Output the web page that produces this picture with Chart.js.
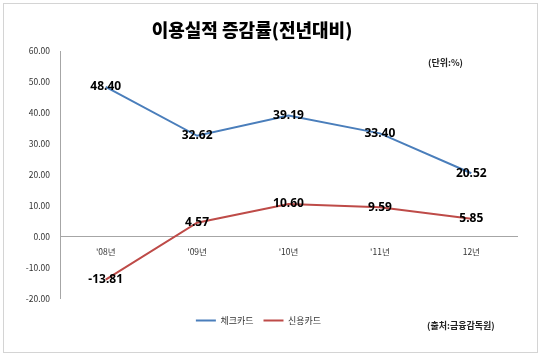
<!DOCTYPE html>
<html>
<head>
<meta charset="utf-8">
<script src="https://cdn.jsdelivr.net/npm/chart.js@4"></script>
<style>
html,body{margin:0;padding:0;background:#fff;}
#wrap{position:relative;width:541px;height:356px;}
</style>
</head>
<body>
<div id="wrap"><canvas id="c" width="541" height="356"></canvas></div>
<script>
const categories = ["'08년", "'09년", "'10년", "'11년", "12년"];
const checkCard = [48.40, 32.62, 39.19, 33.40, 20.52];
const creditCard = [-13.81, 4.57, 10.60, 9.59, 5.85];
const seriesNames = ["체크카드", "신용카드"];
const chartTitle = "이용실적 증감률(전년대비)";
const unitText = "(단위:%)";
const sourceText = "(출처:금융감독원)";
const yMin = -20, yMax = 60, yStep = 10;

const KR = "'Noto Sans CJK KR', 'Noto Sans', sans-serif";

const decor = {
  id: 'decor',
  beforeDraw(chart) {
    const ctx = chart.ctx;
    ctx.save();
    ctx.fillStyle = '#fff';
    ctx.fillRect(0, 0, chart.width, chart.height);
    ctx.strokeStyle = '#d4d4d4';
    ctx.lineWidth = 1;
    ctx.strokeRect(3.5, 3.5, 534, 349);
    ctx.restore();
  },
  afterDraw(chart) {
    const ctx = chart.ctx;
    ctx.save();
    ctx.fillStyle = '#000';
    ctx.textAlign = 'center';
    ctx.textBaseline = 'middle';
    ctx.font = "900 18px " + KR;
    ctx.fillText(chartTitle, 252, 30);
    ctx.font = "bold 9px " + KR;
    ctx.fillStyle = '#222';
    ctx.textAlign = 'left';
    ctx.fillText(unitText, 428, 63);
    ctx.fillText(sourceText, 427, 326);
    ctx.restore();
  },
  afterDatasetsDraw(chart) {
    const ctx = chart.ctx;
    ctx.save();
    ctx.fillStyle = '#000';
    ctx.font = "bold 12px 'Noto Sans', sans-serif";
    ctx.textAlign = 'center';
    ctx.textBaseline = 'middle';
    chart.data.datasets.forEach((ds, i) => {
      const meta = chart.getDatasetMeta(i);
      meta.data.forEach((pt, j) => {
        ctx.fillText(ds.data[j].toFixed(2), pt.x, pt.y);
      });
    });
    ctx.restore();
  }
};

new Chart(document.getElementById('c'), {
  type: 'line',
  data: {
    labels: categories,
    datasets: [
      { label: seriesNames[0], data: checkCard, borderColor: '#4a7ebb', backgroundColor: '#4a7ebb', borderWidth: 2, pointRadius: 0, tension: 0 },
      { label: seriesNames[1], data: creditCard, borderColor: '#be4b48', backgroundColor: '#be4b48', borderWidth: 2, pointRadius: 0, tension: 0 }
    ]
  },
  options: {
    responsive: false,
    animation: false,
    devicePixelRatio: 1,
    layout: { padding: { left: 0, right: 24, top: 51, bottom: 21 } },
    plugins: {
      legend: {
        display: true,
        position: 'bottom',
        title: { display: true, text: ' ', font: { size: 1 }, padding: { top: 6, bottom: 0 } },
        labels: {
          usePointStyle: true,
          pointStyle: 'line',
          pointStyleWidth: 20,
          boxHeight: 9,
          padding: 10,
          color: '#333',
          font: { family: KR, size: 9 }
        }
      },
      tooltip: { enabled: false },
      title: { display: false }
    },
    scales: {
      x: {
        position: { y: 0 },
        offset: true,
        grid: { display: false, drawTicks: false },
        border: { display: true, color: '#a6a6a6', width: 1 },
        ticks: { padding: 10, color: '#333', font: { family: KR, size: 8.5 }, maxRotation: 0 },
        afterFit(scale) { scale.height = 0; }
      },
      y: {
        min: yMin, max: yMax,
        grid: { display: false, drawTicks: false },
        border: { display: true, color: '#a6a6a6', width: 1 },
        ticks: { stepSize: yStep, padding: 10, color: '#333', font: { family: KR, size: 8.5 }, callback: v => Number(v).toFixed(2) },
        afterFit(scale) { scale.width = 60; }
      }
    }
  },
  plugins: [decor]
});
</script>
</body>
</html>
